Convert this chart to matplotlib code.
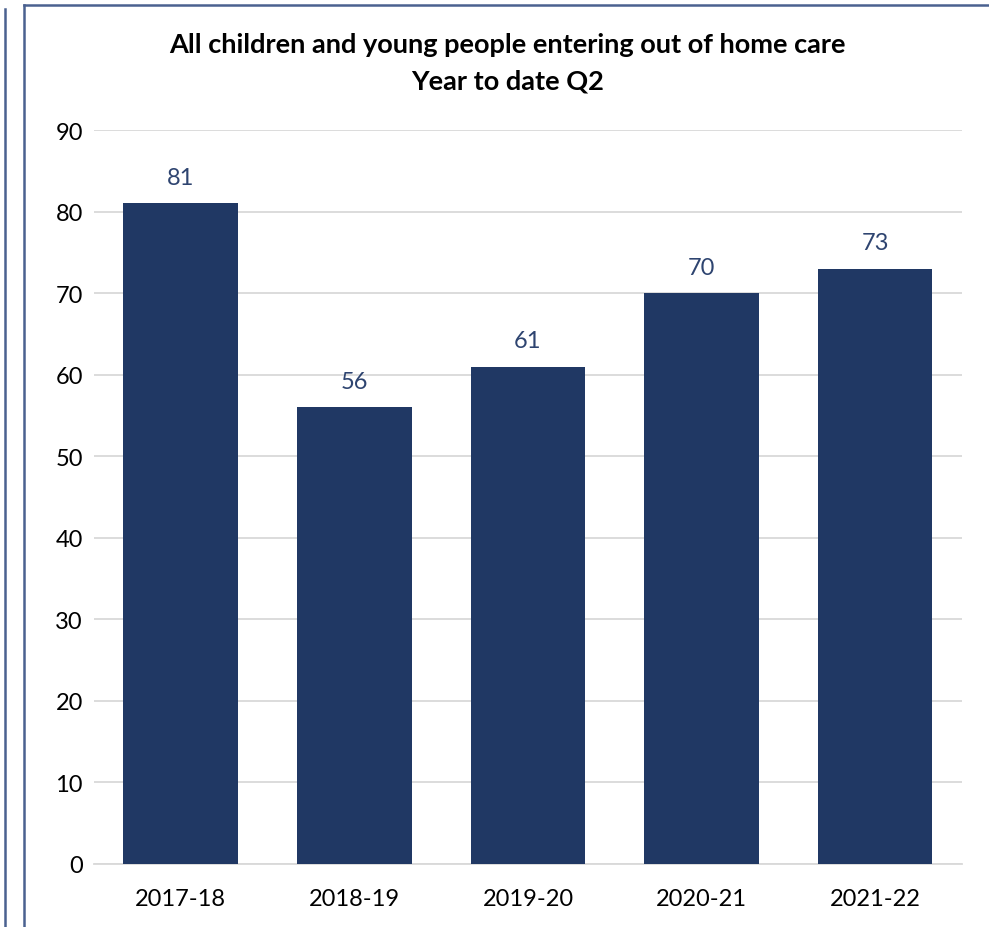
import matplotlib.pyplot as plt
from matplotlib.lines import Line2D

years = ["2017-18", "2018-19", "2019-20", "2020-21", "2021-22"]
counts = [81, 56, 61, 70, 73]
yticks = [0, 10, 20, 30, 40, 50, 60, 70, 80, 90]

bar_color = "#203864"
border_color = "#4A6190"

plt.rcParams['font.family'] = ['Lato', 'DejaVu Sans']

fig = plt.figure(figsize=(9.89, 9.28), dpi=100)
ax = fig.add_axes([0.0950, 0.0679, 0.8777, 0.7909])

x = list(range(len(years)))
ax.bar(x, counts, width=0.66, color=bar_color, zorder=3)
for xi, v in zip(x, counts):
    ax.annotate(str(v), (xi, v), xytext=(0, 11), textcoords="offset points",
                ha="center", va="bottom", fontsize=17, color="#2E4470")

ax.set_xlim(-0.5, 4.5)
ax.set_ylim(0, 90)
ax.set_yticks(yticks)
ax.set_xticks(x)
ax.set_xticklabels(years)
ax.tick_params(axis="both", length=0, labelsize=17, colors="black")
ax.tick_params(axis="y", pad=8)
ax.tick_params(axis="x", pad=17)
ax.grid(axis="y", color="#d9d9d9", linewidth=1.3, zorder=0)
for s in ["top", "right", "left"]:
    ax.spines[s].set_visible(False)
ax.spines["bottom"].set_color("#d9d9d9")
ax.spines["bottom"].set_linewidth(1.3)

fig.text(0.513, 0.951, "All children and young people entering out of home care",
         ha="center", va="center", fontsize=19.5, fontweight="bold")
fig.text(0.513, 0.912, "Year to date Q2", ha="center", va="center",
         fontsize=19.5, fontweight="bold")

# chart frame borders
W, H = 989, 928
fig.add_artist(Line2D([24 / W, 24 / W], [0, 1 - 6 / H], color=border_color, lw=1.8,
                      transform=fig.transFigure))
fig.add_artist(Line2D([24 / W, 1], [1 - 6 / H, 1 - 6 / H], color=border_color, lw=1.8,
                      transform=fig.transFigure))
fig.add_artist(Line2D([5 / W, 5 / W], [0, 1 - 10 / H], color=border_color, lw=1.8,
                      transform=fig.transFigure))

fig.savefig("out.png", dpi=100)
